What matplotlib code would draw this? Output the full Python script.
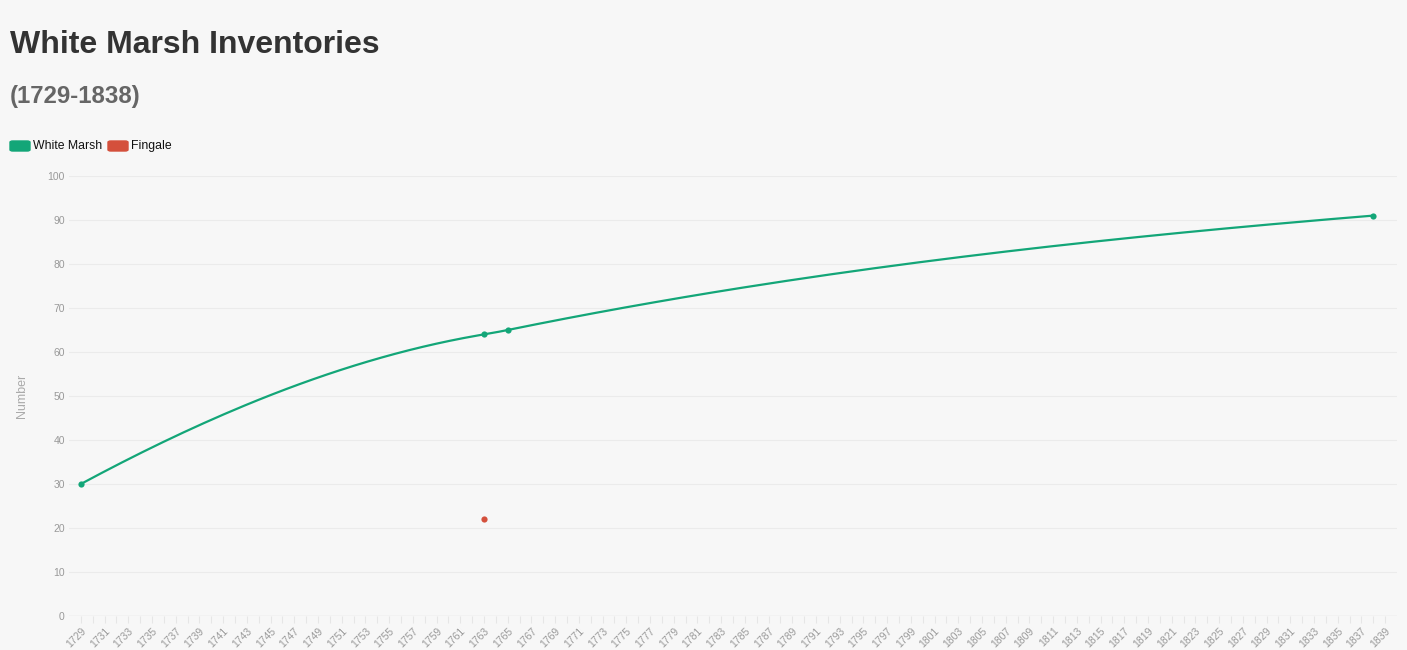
import matplotlib.pyplot as plt
import numpy as np
from matplotlib.patches import FancyBboxPatch

plt.rcParams["font.family"] = ["Liberation Sans", "DejaVu Sans"]

# --- Data --------------------------------------------------------------------
years = list(range(1729, 1840))
wm_years = [1729, 1763, 1765, 1838]
wm_values = [30, 64, 65, 91]
# slope of the smoothed line at each point (value per year)
wm_slopes = [1.45, 0.45, 0.55, 0.22]
fg_years = [1763]
fg_values = [22]

GREEN = "#13a678"
RED = "#d4503c"
BG = "#f7f7f7"


def hermite(xs, ys, ms, n=60):
    xs, ys, ms = (np.asarray(a, float) for a in (xs, ys, ms))
    px, py = [], []
    for i in range(len(xs) - 1):
        h = xs[i + 1] - xs[i]
        t = np.linspace(0, 1, n)
        h00 = 2 * t**3 - 3 * t**2 + 1
        h10 = t**3 - 2 * t**2 + t
        h01 = -2 * t**3 + 3 * t**2
        h11 = t**3 - t**2
        px.append(xs[i] + t * h)
        py.append(h00 * ys[i] + h10 * h * ms[i] + h01 * ys[i + 1] + h11 * h * ms[i + 1])
    return np.concatenate(px), np.concatenate(py)


# --- Plot --------------------------------------------------------------------
W, H = 1407, 650
fig = plt.figure(figsize=(W / 100, H / 100), dpi=100, facecolor=BG)
ax = fig.add_axes([69 / W, 1 - 616 / H, (1397 - 69) / W, (616 - 176) / H])
ax.set_facecolor(BG)

cx, cy = hermite(wm_years, wm_values, wm_slopes)
ax.plot(cx, cy, color=GREEN, lw=1.6, zorder=3, solid_capstyle="round")
ax.scatter(wm_years, wm_values, s=20, color=GREEN, zorder=4, linewidths=0)
ax.scatter(fg_years, fg_values, s=20, color=RED, zorder=4, linewidths=0)

ax.set_xlim(1728.0, 1840.0)
ax.set_ylim(0, 100)
ax.set_yticks(range(0, 101, 10))
ax.set_xticks(years)
ax.set_xticklabels([str(y) if (y - 1729) % 2 == 0 else "" for y in years],
                   rotation=45, ha="right", rotation_mode="anchor")
ax.tick_params(axis="x", colors="#e6e6e6", labelcolor="#999999", labelsize=7.5,
               length=5, width=0.8, pad=2)
ax.tick_params(axis="y", length=0, labelcolor="#999999", labelsize=7.5, pad=3)
ax.grid(axis="y", color="#ebebeb", lw=0.8)
for s in ax.spines.values():
    s.set_visible(False)
ax.axhline(0, color="#e6e6e6", lw=1)
ax.set_ylabel("Number", color="#aaaaaa", fontsize=9)
ax.yaxis.set_label_coords(-0.031, 0.5)

# --- Titles & legend ---------------------------------------------------------
fig.text(10 / W, 1 - 45 / H, "White Marsh Inventories", fontsize=23,
         fontweight="bold", color="#333333", va="center", ha="left")
fig.text(10 / W, 1 - 97 / H, "(1729-1838)", fontsize=17.3,
         fontweight="bold", color="#666666", va="center", ha="left")

for x0, col, label in [(10, GREEN, "White Marsh"), (108, RED, "Fingale")]:
    fig.patches.append(FancyBboxPatch((x0 / W, 1 - 151 / H), 20 / W, 10 / H,
                                      boxstyle="round,pad=0,rounding_size=0.002",
                                      transform=fig.transFigure, color=col))
    fig.text((x0 + 23) / W, 1 - 146 / H, label, fontsize=8.8, color="#111111",
             va="center", ha="left")

fig.savefig("out.png", dpi=100, facecolor=BG)
